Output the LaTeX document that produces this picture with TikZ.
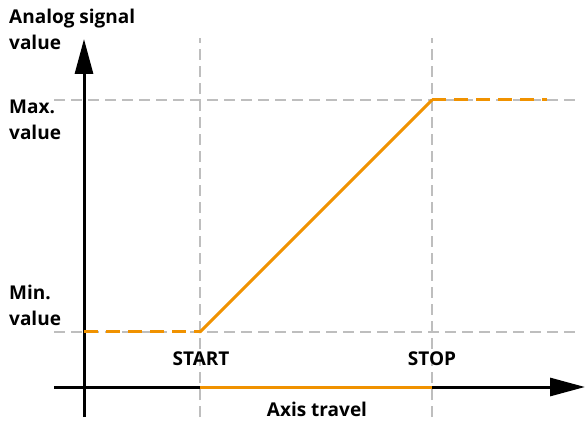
\documentclass[tikz,border=0pt]{standalone}
\usepackage{fontspec}
\setmainfont{Open Sans}
\usetikzlibrary{arrows.meta, positioning}
\definecolor{sigorange}{RGB}{240, 146, 0}
\definecolor{guidegray}{RGB}{190, 190, 190}
\tikzset{
    axis/.style={-{Triangle[length=35pt, width=18pt]}, line width=3pt, color=black},
    guide/.style={line width=1.1pt, color=guidegray, dash pattern=on 11pt off 6pt},
    signal/.style={line width=3pt, color=sigorange},
    sigdash/.style={signal, dash pattern=on 14pt off 8pt},
    lbl/.style={font=\fontsize{19}{25.5}\selectfont\bfseries, align=left, inner sep=0pt},
}
\begin{document}
\begin{tikzpicture}[x=1pt, y=1pt]
    \useasboundingbox (0,0) rectangle (588,420);

    % axes
    \coordinate (ybot) at (84, 3);
    \coordinate (ytop) at (84, 381);
    \coordinate (xleft) at (54, 33);
    \coordinate (xright) at (585, 33);
    \coordinate (start) at (200, 33);
    \coordinate (stop) at (432, 33);

    % guide lines
    \coordinate (starttop) at (200, 382);
    \coordinate (startbot) at (200, 3);
    \coordinate (stoptop) at (432, 382);
    \coordinate (stopbot) at (432, 3);
    \coordinate (maxleft) at (54, 320);
    \coordinate (maxright) at (578, 320);
    \coordinate (minleft) at (54, 88);
    \coordinate (minright) at (578, 88);

    \draw[guide] (startbot) -- (starttop);
    \draw[guide] (stopbot) -- (stoptop);
    \draw[guide] (maxleft) -- (maxright);
    \draw[guide] (minleft) -- (minright);

    \draw[axis] (xleft) -- (xright);
    \draw[axis] (ybot) -- (ytop);

    % signal
    \coordinate (minin) at (84, 88);
    \coordinate (lo) at (200, 88);
    \coordinate (hi) at (432, 320);
    \coordinate (maxout) at (547, 320);

    \draw[sigdash] (minin) -- (lo);
    \draw[signal, line cap=round, line join=round] (lo) -- (hi);
    \draw[sigdash] (hi) -- (maxout);
    \draw[signal] (start) -- (stop);

    % labels
    \node[lbl, anchor=north west] (ylabel) at (9, 411) {Analog signal\\value};
    \node[lbl, anchor=north west] (maxlbl) at (9, 320) {Max.\\value};
    \node[lbl, anchor=north west] (minlbl) at (9, 135) {Min.\\value};
    \node[lbl, anchor=base] (startlbl) at (201, 55) {START};
    \node[lbl, anchor=base] (stoplbl) at (432, 55) {STOP};
    \node[lbl, anchor=base] (travel) at (317, 4) {Axis travel};
\end{tikzpicture}
\end{document}
